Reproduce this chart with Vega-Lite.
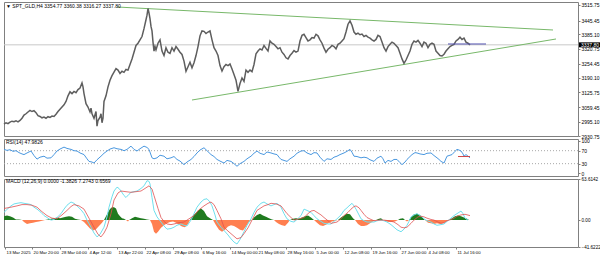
{
"$schema": "https://vega.github.io/schema/vega-lite/v6.json",
"padding": {"left": 0, "top": 1, "right": 0, "bottom": 0},
"spacing": 3,
"bounds": "flush",
"background": "white",
"config": {
 "view": {"stroke": "#808080", "strokeWidth": 1},
 "axis": {"labelFont": "Liberation Sans", "labelFontSize": 5, "labelColor": "#000000", "tickColor": "#808080", "tickSize": 2, "labelPadding": 1, "domain": false, "grid": false, "title": null},
 "text": {"font": "Liberation Sans", "fontSize": 5, "color": "#000000"}
},
"datasets": {
 "price": [
  {"b":0,"p":2984},{"b":2,"p":2990},{"b":4,"p":2986},{"b":6,"p":2993},{"b":8,"p":2997},{"b":10,"p":2995},{"b":12,"p":2999},{"b":14,"p":2994},{"b":16,"p":3000},{"b":18,"p":3010},{"b":20,"p":3024},{"b":22,"p":3030},{"b":24,"p":3038},{"b":26,"p":3045},{"b":28,"p":3040},{"b":30,"p":3044},{"b":32,"p":3035},{"b":34,"p":3022},{"b":36,"p":3018},{"b":38,"p":3012},{"b":40,"p":3015},{"b":42,"p":3010},{"b":44,"p":3017},{"b":46,"p":3014},{"b":48,"p":3020},{"b":50,"p":3018},{"b":52,"p":3028},{"b":54,"p":3040},{"b":56,"p":3050},{"b":58,"p":3060},{"b":60,"p":3070},{"b":62,"p":3085},{"b":64,"p":3110},{"b":66,"p":3128},{"b":68,"p":3120},{"b":70,"p":3130},{"b":72,"p":3124},{"b":74,"p":3138},{"b":76,"p":3145},{"b":78,"p":3168},{"b":79,"p":3150},{"b":80,"p":3120},{"b":82,"p":3075},{"b":84,"p":3060},{"b":86,"p":3038},{"b":87,"p":3055},{"b":88,"p":3030},{"b":90,"p":3010},{"b":92,"p":3040},{"b":93,"p":2975},{"b":94,"p":3000},{"b":96,"p":3015},{"b":97,"p":3030},{"b":98,"p":2990},{"b":99,"p":3010},{"b":100,"p":3085},{"b":102,"p":3110},{"b":104,"p":3150},{"b":106,"p":3180},{"b":108,"p":3200},{"b":110,"p":3216},{"b":112,"p":3232},{"b":114,"p":3225},{"b":116,"p":3210},{"b":118,"p":3220},{"b":120,"p":3215},{"b":122,"p":3228},{"b":124,"p":3225},{"b":126,"p":3250},{"b":128,"p":3275},{"b":130,"p":3305},{"b":132,"p":3335},{"b":134,"p":3345},{"b":136,"p":3360},{"b":138,"p":3375},{"b":140,"p":3410},{"b":142,"p":3450},{"b":143,"p":3470},{"b":144,"p":3500},{"b":145,"p":3480},{"b":146,"p":3455},{"b":147,"p":3420},{"b":148,"p":3400},{"b":149,"p":3350},{"b":150,"p":3310},{"b":151,"p":3330},{"b":152,"p":3315},{"b":154,"p":3345},{"b":156,"p":3360},{"b":158,"p":3310},{"b":160,"p":3290},{"b":162,"p":3325},{"b":164,"p":3305},{"b":166,"p":3300},{"b":168,"p":3325},{"b":170,"p":3310},{"b":172,"p":3330},{"b":174,"p":3318},{"b":176,"p":3305},{"b":178,"p":3295},{"b":180,"p":3265},{"b":182,"p":3220},{"b":184,"p":3240},{"b":186,"p":3260},{"b":188,"p":3235},{"b":190,"p":3258},{"b":192,"p":3290},{"b":194,"p":3330},{"b":196,"p":3378},{"b":198,"p":3400},{"b":200,"p":3398},{"b":202,"p":3388},{"b":204,"p":3395},{"b":206,"p":3400},{"b":208,"p":3360},{"b":210,"p":3325},{"b":212,"p":3310},{"b":214,"p":3290},{"b":216,"p":3245},{"b":218,"p":3221},{"b":220,"p":3240},{"b":222,"p":3250},{"b":224,"p":3245},{"b":226,"p":3252},{"b":228,"p":3230},{"b":230,"p":3205},{"b":232,"p":3180},{"b":234,"p":3130},{"b":236,"p":3165},{"b":238,"p":3190},{"b":240,"p":3175},{"b":242,"p":3225},{"b":244,"p":3215},{"b":246,"p":3225},{"b":248,"p":3218},{"b":250,"p":3250},{"b":252,"p":3298},{"b":254,"p":3310},{"b":256,"p":3320},{"b":258,"p":3315},{"b":260,"p":3335},{"b":262,"p":3322},{"b":264,"p":3310},{"b":266,"p":3355},{"b":268,"p":3345},{"b":270,"p":3340},{"b":272,"p":3330},{"b":274,"p":3320},{"b":276,"p":3325},{"b":278,"p":3305},{"b":280,"p":3295},{"b":282,"p":3280},{"b":284,"p":3275},{"b":286,"p":3290},{"b":288,"p":3300},{"b":290,"p":3312},{"b":292,"p":3305},{"b":294,"p":3310},{"b":296,"p":3355},{"b":298,"p":3380},{"b":300,"p":3385},{"b":302,"p":3370},{"b":304,"p":3355},{"b":306,"p":3360},{"b":308,"p":3370},{"b":310,"p":3368},{"b":312,"p":3385},{"b":314,"p":3378},{"b":316,"p":3360},{"b":318,"p":3345},{"b":320,"p":3323},{"b":322,"p":3305},{"b":324,"p":3318},{"b":326,"p":3325},{"b":328,"p":3335},{"b":330,"p":3330},{"b":332,"p":3320},{"b":334,"p":3340},{"b":336,"p":3345},{"b":338,"p":3355},{"b":340,"p":3365},{"b":342,"p":3395},{"b":344,"p":3430},{"b":346,"p":3445},{"b":348,"p":3425},{"b":350,"p":3395},{"b":352,"p":3385},{"b":354,"p":3390},{"b":356,"p":3383},{"b":358,"p":3386},{"b":360,"p":3375},{"b":362,"p":3380},{"b":364,"p":3372},{"b":366,"p":3368},{"b":368,"p":3360},{"b":370,"p":3355},{"b":372,"p":3362},{"b":374,"p":3380},{"b":376,"p":3375},{"b":378,"p":3350},{"b":380,"p":3325},{"b":382,"p":3310},{"b":384,"p":3330},{"b":386,"p":3340},{"b":388,"p":3350},{"b":390,"p":3345},{"b":392,"p":3335},{"b":394,"p":3325},{"b":396,"p":3300},{"b":398,"p":3275},{"b":400,"p":3255},{"b":402,"p":3270},{"b":404,"p":3290},{"b":406,"p":3310},{"b":408,"p":3340},{"b":410,"p":3355},{"b":412,"p":3350},{"b":414,"p":3358},{"b":416,"p":3345},{"b":418,"p":3330},{"b":420,"p":3350},{"b":422,"p":3345},{"b":424,"p":3325},{"b":426,"p":3340},{"b":428,"p":3345},{"b":430,"p":3340},{"b":432,"p":3310},{"b":434,"p":3300},{"b":436,"p":3290},{"b":438,"p":3288},{"b":440,"p":3296},{"b":442,"p":3310},{"b":444,"p":3320},{"b":446,"p":3330},{"b":448,"p":3335},{"b":450,"p":3340},{"b":452,"p":3355},{"b":454,"p":3362},{"b":456,"p":3372},{"b":458,"p":3362},{"b":460,"p":3368},{"b":462,"p":3350},{"b":464,"p":3345},{"b":466,"p":3337.8}
 ],
 "rsi": [
  {"b":0,"r":74},{"b":3,"r":71},{"b":6,"r":73},{"b":9,"r":68},{"b":12,"r":70},{"b":15,"r":64},{"b":18,"r":60},{"b":20,"r":58},{"b":23,"r":63},{"b":27,"r":69},{"b":30,"r":55},{"b":33,"r":44},{"b":36,"r":50},{"b":40,"r":53},{"b":43,"r":47},{"b":47,"r":48},{"b":50,"r":58},{"b":53,"r":69},{"b":56,"r":75},{"b":60,"r":81},{"b":63,"r":77},{"b":67,"r":74},{"b":70,"r":70},{"b":73,"r":69},{"b":76,"r":63},{"b":80,"r":58},{"b":83,"r":45},{"b":85,"r":37},{"b":88,"r":35},{"b":90,"r":32},{"b":93,"r":42},{"b":97,"r":53},{"b":100,"r":62},{"b":103,"r":69},{"b":106,"r":75},{"b":110,"r":79},{"b":113,"r":76},{"b":117,"r":74},{"b":120,"r":70},{"b":123,"r":74},{"b":127,"r":84},{"b":130,"r":74},{"b":133,"r":69},{"b":136,"r":76},{"b":140,"r":84},{"b":143,"r":80},{"b":145,"r":74},{"b":148,"r":48},{"b":150,"r":45},{"b":153,"r":48},{"b":156,"r":56},{"b":160,"r":53},{"b":163,"r":45},{"b":167,"r":48},{"b":170,"r":52},{"b":173,"r":43},{"b":176,"r":38},{"b":180,"r":27},{"b":183,"r":35},{"b":187,"r":43},{"b":190,"r":52},{"b":193,"r":63},{"b":196,"r":72},{"b":200,"r":79},{"b":203,"r":70},{"b":207,"r":58},{"b":210,"r":52},{"b":213,"r":43},{"b":216,"r":38},{"b":220,"r":32},{"b":223,"r":40},{"b":227,"r":37},{"b":230,"r":30},{"b":233,"r":22},{"b":236,"r":30},{"b":240,"r":37},{"b":243,"r":45},{"b":247,"r":53},{"b":250,"r":62},{"b":253,"r":69},{"b":256,"r":62},{"b":260,"r":58},{"b":263,"r":66},{"b":267,"r":63},{"b":270,"r":60},{"b":273,"r":58},{"b":275,"r":50},{"b":277,"r":43},{"b":280,"r":40},{"b":283,"r":37},{"b":286,"r":45},{"b":290,"r":53},{"b":293,"r":62},{"b":297,"r":69},{"b":300,"r":70},{"b":303,"r":63},{"b":307,"r":58},{"b":310,"r":64},{"b":313,"r":63},{"b":316,"r":50},{"b":320,"r":37},{"b":323,"r":45},{"b":327,"r":43},{"b":330,"r":50},{"b":333,"r":53},{"b":336,"r":58},{"b":340,"r":63},{"b":343,"r":68},{"b":346,"r":74},{"b":348,"r":65},{"b":350,"r":53},{"b":353,"r":52},{"b":357,"r":48},{"b":360,"r":50},{"b":363,"r":48},{"b":366,"r":42},{"b":370,"r":37},{"b":373,"r":47},{"b":377,"r":53},{"b":379,"r":45},{"b":381,"r":32},{"b":384,"r":40},{"b":387,"r":37},{"b":390,"r":43},{"b":393,"r":43},{"b":396,"r":33},{"b":398,"r":27},{"b":401,"r":35},{"b":403,"r":43},{"b":406,"r":52},{"b":408,"r":58},{"b":411,"r":64},{"b":413,"r":63},{"b":416,"r":60},{"b":420,"r":58},{"b":423,"r":62},{"b":427,"r":63},{"b":430,"r":55},{"b":433,"r":48},{"b":435,"r":43},{"b":437,"r":37},{"b":440,"r":32},{"b":443,"r":53},{"b":445,"r":55},{"b":448,"r":58},{"b":451,"r":68},{"b":453,"r":74},{"b":455,"r":72},{"b":457,"r":69},{"b":459,"r":60},{"b":460,"r":53},{"b":462,"r":58},{"b":464,"r":53},{"b":466,"r":48}
 ],
 "macd": [
  {"b":0,"v":12},{"b":4,"v":18},{"b":7,"v":22},{"b":10,"v":25},{"b":13,"v":26},{"b":17,"v":27},{"b":20,"v":26},{"b":24,"v":25},{"b":27,"v":24},{"b":30,"v":20},{"b":33,"v":17},{"b":37,"v":12},{"b":40,"v":7},{"b":44,"v":3},{"b":47,"v":0},{"b":50,"v":1},{"b":53,"v":4},{"b":57,"v":10},{"b":60,"v":17},{"b":63,"v":23},{"b":67,"v":28},{"b":70,"v":26},{"b":73,"v":22},{"b":77,"v":16},{"b":80,"v":10},{"b":83,"v":0},{"b":87,"v":-11},{"b":90,"v":-20},{"b":93,"v":-26},{"b":96,"v":-22},{"b":100,"v":-11},{"b":103,"v":5},{"b":105,"v":20},{"b":108,"v":36},{"b":110,"v":45},{"b":113,"v":51},{"b":115,"v":49},{"b":117,"v":45},{"b":120,"v":38},{"b":122,"v":35},{"b":125,"v":40},{"b":127,"v":43},{"b":130,"v":44},{"b":133,"v":45},{"b":137,"v":49},{"b":140,"v":53},{"b":143,"v":61},{"b":145,"v":60},{"b":146,"v":56},{"b":148,"v":35},{"b":150,"v":15},{"b":153,"v":5},{"b":157,"v":-3},{"b":160,"v":-9},{"b":163,"v":-14},{"b":167,"v":-13},{"b":170,"v":-11},{"b":173,"v":-8},{"b":177,"v":-6},{"b":180,"v":-8},{"b":183,"v":-9},{"b":187,"v":0},{"b":190,"v":10},{"b":193,"v":20},{"b":197,"v":28},{"b":200,"v":32},{"b":203,"v":33},{"b":206,"v":28},{"b":208,"v":22},{"b":211,"v":8},{"b":213,"v":-3},{"b":217,"v":-11},{"b":220,"v":-16},{"b":224,"v":-23},{"b":227,"v":-29},{"b":230,"v":-34},{"b":233,"v":-37},{"b":236,"v":-30},{"b":240,"v":-18},{"b":243,"v":-8},{"b":247,"v":2},{"b":250,"v":12},{"b":253,"v":20},{"b":257,"v":26},{"b":260,"v":28},{"b":263,"v":25},{"b":267,"v":22},{"b":270,"v":24},{"b":273,"v":26},{"b":277,"v":20},{"b":280,"v":10},{"b":283,"v":2},{"b":287,"v":-2},{"b":290,"v":-3},{"b":293,"v":1},{"b":297,"v":7},{"b":300,"v":17},{"b":303,"v":15},{"b":307,"v":12},{"b":310,"v":7},{"b":313,"v":2},{"b":317,"v":-2},{"b":320,"v":-5},{"b":324,"v":-6},{"b":327,"v":-6},{"b":330,"v":-2},{"b":333,"v":2},{"b":337,"v":8},{"b":340,"v":15},{"b":343,"v":19},{"b":345,"v":22},{"b":348,"v":26},{"b":350,"v":22},{"b":352,"v":17},{"b":355,"v":8},{"b":357,"v":2},{"b":360,"v":-1},{"b":363,"v":-3},{"b":367,"v":-3},{"b":370,"v":-3},{"b":373,"v":-1},{"b":377,"v":0},{"b":380,"v":-1},{"b":383,"v":-3},{"b":387,"v":-7},{"b":390,"v":-11},{"b":393,"v":-15},{"b":397,"v":-18},{"b":400,"v":-14},{"b":403,"v":-8},{"b":405,"v":-2},{"b":407,"v":5},{"b":410,"v":8},{"b":413,"v":10},{"b":417,"v":6},{"b":420,"v":2},{"b":423,"v":-1},{"b":427,"v":-3},{"b":430,"v":-6},{"b":433,"v":-8},{"b":437,"v":-7},{"b":440,"v":-6},{"b":443,"v":-2},{"b":447,"v":3},{"b":450,"v":7},{"b":453,"v":10},{"b":457,"v":14},{"b":459,"v":10},{"b":461,"v":3},{"b":464,"v":0}
 ],
 "signal": [
  {"b":0,"v":18},{"b":7,"v":20},{"b":13,"v":22},{"b":18,"v":24},{"b":23,"v":24},{"b":28,"v":23},{"b":33,"v":20},{"b":38,"v":13},{"b":43,"v":7},{"b":48,"v":3},{"b":53,"v":2},{"b":58,"v":8},{"b":63,"v":15},{"b":67,"v":21},{"b":70,"v":24},{"b":75,"v":22},{"b":80,"v":17},{"b":85,"v":3},{"b":90,"v":-11},{"b":94,"v":-22},{"b":97,"v":-26},{"b":100,"v":-20},{"b":103,"v":-11},{"b":107,"v":10},{"b":110,"v":31},{"b":114,"v":42},{"b":117,"v":45},{"b":122,"v":44},{"b":127,"v":43},{"b":132,"v":44},{"b":137,"v":45},{"b":141,"v":49},{"b":145,"v":53},{"b":148,"v":48},{"b":150,"v":38},{"b":154,"v":18},{"b":157,"v":4},{"b":160,"v":-2},{"b":163,"v":-6},{"b":167,"v":-7},{"b":170,"v":-6},{"b":175,"v":-4},{"b":180,"v":-3},{"b":185,"v":2},{"b":190,"v":7},{"b":195,"v":16},{"b":200,"v":22},{"b":204,"v":26},{"b":207,"v":28},{"b":210,"v":24},{"b":213,"v":15},{"b":217,"v":2},{"b":220,"v":-11},{"b":224,"v":-17},{"b":227,"v":-21},{"b":230,"v":-25},{"b":233,"v":-29},{"b":237,"v":-27},{"b":240,"v":-21},{"b":244,"v":-12},{"b":247,"v":-3},{"b":250,"v":6},{"b":253,"v":15},{"b":257,"v":19},{"b":260,"v":22},{"b":264,"v":24},{"b":267,"v":26},{"b":272,"v":25},{"b":277,"v":22},{"b":280,"v":16},{"b":283,"v":10},{"b":287,"v":4},{"b":290,"v":0},{"b":295,"v":2},{"b":300,"v":4},{"b":304,"v":10},{"b":307,"v":14},{"b":310,"v":15},{"b":313,"v":12},{"b":317,"v":8},{"b":320,"v":4},{"b":324,"v":-1},{"b":327,"v":-5},{"b":330,"v":-4},{"b":333,"v":-3},{"b":337,"v":2},{"b":340,"v":7},{"b":344,"v":12},{"b":347,"v":17},{"b":350,"v":21},{"b":352,"v":22},{"b":355,"v":19},{"b":357,"v":15},{"b":360,"v":9},{"b":363,"v":4},{"b":367,"v":1},{"b":370,"v":-1},{"b":375,"v":0},{"b":380,"v":0},{"b":385,"v":-1},{"b":390,"v":-3},{"b":394,"v":-7},{"b":397,"v":-11},{"b":400,"v":-12},{"b":403,"v":-11},{"b":407,"v":-5},{"b":410,"v":0},{"b":414,"v":5},{"b":417,"v":6},{"b":420,"v":5},{"b":423,"v":3},{"b":427,"v":1},{"b":430,"v":0},{"b":434,"v":-3},{"b":437,"v":-5},{"b":440,"v":-4},{"b":443,"v":-1},{"b":447,"v":1},{"b":450,"v":3},{"b":453,"v":6},{"b":457,"v":8},{"b":461,"v":9},{"b":466,"v":7}
 ],
 "hist": [
  {"b":0,"v":6},{"b":3,"v":7},{"b":6,"v":6},{"b":9,"v":4},{"b":12,"v":1},{"b":15,"v":1},{"b":18,"v":0},{"b":20,"v":-3},{"b":23,"v":-6},{"b":26,"v":-5},{"b":29,"v":-4},{"b":32,"v":-3},{"b":35,"v":-2},{"b":38,"v":-1},{"b":41,"v":0},{"b":44,"v":1},{"b":47,"v":2},{"b":50,"v":3},{"b":53,"v":4},{"b":56,"v":3},{"b":59,"v":4},{"b":62,"v":5},{"b":65,"v":6},{"b":68,"v":5},{"b":71,"v":2},{"b":74,"v":1},{"b":77,"v":0},{"b":80,"v":-3},{"b":83,"v":-8},{"b":86,"v":-13},{"b":89,"v":-16},{"b":92,"v":-14},{"b":95,"v":-9},{"b":98,"v":-4},{"b":100,"v":0},{"b":102,"v":6},{"b":104,"v":12},{"b":106,"v":17},{"b":108,"v":20},{"b":110,"v":20},{"b":112,"v":18},{"b":114,"v":10},{"b":116,"v":6},{"b":118,"v":3},{"b":120,"v":2},{"b":122,"v":0},{"b":124,"v":-2},{"b":125,"v":0},{"b":126,"v":1},{"b":128,"v":3},{"b":131,"v":5},{"b":134,"v":4},{"b":137,"v":3},{"b":140,"v":2},{"b":143,"v":1},{"b":146,"v":0},{"b":148,"v":-6},{"b":150,"v":-18},{"b":152,"v":-21},{"b":154,"v":-18},{"b":157,"v":-12},{"b":160,"v":-8},{"b":163,"v":-5},{"b":166,"v":-3},{"b":169,"v":-2},{"b":172,"v":-4},{"b":175,"v":-7},{"b":178,"v":-10},{"b":181,"v":-11},{"b":184,"v":-6},{"b":186,"v":0},{"b":188,"v":5},{"b":191,"v":10},{"b":194,"v":15},{"b":197,"v":18},{"b":200,"v":14},{"b":203,"v":6},{"b":206,"v":3},{"b":209,"v":0},{"b":212,"v":-8},{"b":215,"v":-15},{"b":218,"v":-18},{"b":221,"v":-15},{"b":224,"v":-10},{"b":227,"v":-8},{"b":230,"v":-9},{"b":233,"v":-12},{"b":236,"v":-15},{"b":239,"v":-16},{"b":242,"v":-10},{"b":245,"v":-3},{"b":248,"v":0},{"b":250,"v":4},{"b":253,"v":8},{"b":256,"v":10},{"b":259,"v":7},{"b":262,"v":5},{"b":265,"v":3},{"b":268,"v":1},{"b":270,"v":0},{"b":272,"v":-3},{"b":275,"v":-6},{"b":278,"v":-8},{"b":281,"v":-9},{"b":284,"v":-4},{"b":286,"v":0},{"b":289,"v":2},{"b":292,"v":3},{"b":295,"v":2},{"b":298,"v":4},{"b":301,"v":6},{"b":304,"v":7},{"b":307,"v":4},{"b":310,"v":0},{"b":313,"v":-4},{"b":316,"v":-8},{"b":319,"v":-9},{"b":322,"v":-7},{"b":325,"v":-4},{"b":328,"v":-2},{"b":331,"v":-1},{"b":334,"v":0},{"b":337,"v":4},{"b":340,"v":7},{"b":343,"v":10},{"b":346,"v":9},{"b":349,"v":3},{"b":351,"v":0},{"b":354,"v":-6},{"b":357,"v":-9},{"b":360,"v":-9},{"b":363,"v":-8},{"b":366,"v":-5},{"b":369,"v":-2},{"b":372,"v":0},{"b":375,"v":2},{"b":377,"v":3},{"b":379,"v":0},{"b":382,"v":-2},{"b":385,"v":-3},{"b":388,"v":-3},{"b":391,"v":-2},{"b":394,"v":0},{"b":396,"v":2},{"b":399,"v":3},{"b":401,"v":0},{"b":403,"v":-2},{"b":405,"v":0},{"b":407,"v":4},{"b":410,"v":9},{"b":413,"v":10},{"b":416,"v":8},{"b":419,"v":3},{"b":421,"v":0},{"b":424,"v":-4},{"b":427,"v":-5},{"b":430,"v":-6},{"b":433,"v":-5},{"b":436,"v":-6},{"b":439,"v":-5},{"b":442,"v":-2},{"b":445,"v":0},{"b":448,"v":3},{"b":451,"v":6},{"b":454,"v":7},{"b":457,"v":6},{"b":460,"v":4},{"b":463,"v":2},{"b":465,"v":0}
 ]
},
"vconcat": [
 {
  "width": 574, "height": 134,
  "encoding": {
   "x": {"field": "b", "type": "quantitative", "scale": {"domain": [0, 574], "nice": false, "zero": false}, "axis": null},
   "y": {"field": "p", "type": "quantitative", "scale": {"domain": [2930.75, 3529.1], "nice": false, "zero": false},
         "axis": {"orient": "right", "values": [2930.75, 2995.10, 3059.45, 3125.75, 3190.10, 3254.45, 3320.75, 3385.10, 3445.45, 3515.75], "format": ".2f"}}
  },
  "layer": [
   {"data": {"values": [{"p": 3337.8}]}, "mark": {"type": "rule", "color": "#c8c8c8", "strokeWidth": 1}, "encoding": {"x": null}},
   {"data": {"values": [{"b": 113, "p": 3506.8, "g": "up"}, {"b": 549, "p": 3404.1, "g": "up"}, {"b": 188, "p": 3091.5, "g": "lo"}, {"b": 552, "p": 3363.9, "g": "lo"}]},
    "mark": {"type": "line", "color": "#78b86a", "strokeWidth": 1}, "encoding": {"detail": {"field": "g"}}},
   {"data": {"name": "price"}, "mark": {"type": "line", "color": "#5e5e5e", "strokeWidth": 1.5}},
   {"data": {"values": [{"b": 444, "p": 3341.6}, {"b": 482, "p": 3341.6}]}, "mark": {"type": "line", "color": "#5050b0", "strokeWidth": 1}},
   {"data": {"values": [{"b": 2, "p": 3513, "t": "▼ SPT_GLD,H4  3354.77 3360.38 3316.27 3337.80"}]},
    "mark": {"type": "text", "align": "left", "baseline": "middle", "fontSize": 5}, "encoding": {"text": {"field": "t"}}},
   {"data": {"values": [{"b": 575, "b2": 596, "p": 3326.6, "p2": 3349.0}]},
    "mark": {"type": "rect", "color": "#000000"}, "encoding": {"x2": {"field": "b2"}, "y2": {"field": "p2"}}},
   {"data": {"values": [{"b": 577, "p": 3337.8, "t": "3337.80"}]},
    "mark": {"type": "text", "align": "left", "baseline": "middle", "color": "#ffffff", "fontSize": 5}, "encoding": {"text": {"field": "t"}}}
  ]
 },
 {
  "width": 574, "height": 37,
  "encoding": {
   "x": {"field": "b", "type": "quantitative", "scale": {"domain": [0, 574], "nice": false, "zero": false}, "axis": null},
   "y": {"field": "r", "type": "quantitative", "scale": {"domain": [-8, 106], "nice": false, "zero": false},
         "axis": {"orient": "right", "values": [0, 30, 70, 100]}}
  },
  "layer": [
   {"data": {"values": [{"r": 70}, {"r": 30}]}, "mark": {"type": "rule", "color": "#a8a8a8", "strokeDash": [1, 2], "strokeWidth": 1}, "encoding": {"x": null}},
   {"data": {"name": "rsi"}, "mark": {"type": "line", "color": "#4a98e0", "strokeWidth": 1}},
   {"data": {"values": [{"b": 454, "r": 52}, {"b": 466, "r": 52}]}, "mark": {"type": "line", "color": "#d04848", "strokeWidth": 1}},
   {"data": {"values": [{"b": 2, "r": 97, "t": "RSI(14) 47.9826"}]},
    "mark": {"type": "text", "align": "left", "baseline": "middle", "fontSize": 5}, "encoding": {"text": {"field": "t"}}}
  ]
 },
 {
  "width": 574, "height": 68,
  "encoding": {
   "x": {"field": "b", "type": "quantitative", "scale": {"domain": [0, 574], "nice": false, "zero": false},
         "axis": {"orient": "bottom", "values": [1, 28, 56, 84, 113, 141, 169, 197, 226, 253, 282, 311, 339, 367, 396, 423, 452],
                  "labelExpr": "['13 Mar 2025','20 Mar 20:00','28 Mar 04:00','4 Apr 12:00','13 Apr 22:00','22 Apr 08:00','29 Apr 08:00','6 May 16:00','14 May 00:00','21 May 08:00','28 May 16:00','5 Jun 00:00','12 Jun 08:00','19 Jun 16:00','27 Jun 00:00','4 Jul 08:00','11 Jul 16:00'][indexof([1, 28, 56, 84, 113, 141, 169, 197, 226, 253, 282, 311, 339, 367, 396, 423, 452], datum.value)]",
                  "labelAlign": "left", "labelFlush": false, "labelOverlap": false, "labelOffset": 1, "labelFontSize": 4.3, "tickSize": 2, "labelPadding": 1}},
   "y": {"field": "v", "type": "quantitative", "scale": {"domain": [-41.6222, 63.6142], "nice": false, "zero": false},
         "axis": {"orient": "right", "values": [-41.6222, 0, 63.6142], "labelFontSize": 4.6, "labelExpr": "datum.value == 0 ? '0.00' : format(datum.value, '.4f')"}}
  },
  "layer": [
   {"data": {"name": "hist"}, "transform": [{"filter": "datum.v >= 0"}], "mark": {"type": "area", "color": "#1f7a1f", "opacity": 1}, "encoding": {"y2": {"datum": 0}}},
   {"data": {"name": "hist"}, "transform": [{"filter": "datum.v <= 0"}], "mark": {"type": "area", "color": "#ff7f50", "opacity": 1}, "encoding": {"y2": {"datum": 0}}},
   {"data": {"name": "macd"}, "mark": {"type": "line", "color": "#6fe0ee", "strokeWidth": 1}},
   {"data": {"name": "signal"}, "mark": {"type": "line", "color": "#e05050", "strokeWidth": 0.8}},
   {"data": {"values": [{"b": 2, "v": 60.5, "t": "MACD  (12,26,9) 0.0000 -1.3826 7.2743 0.6569"}]},
    "mark": {"type": "text", "align": "left", "baseline": "middle", "fontSize": 5}, "encoding": {"text": {"field": "t"}}}
  ]
 }
]
}
